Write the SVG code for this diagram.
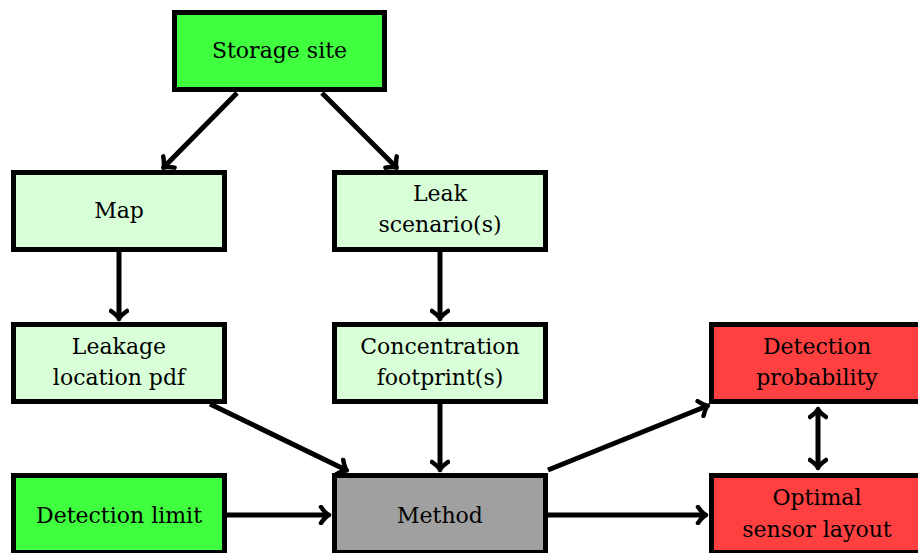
<svg xmlns="http://www.w3.org/2000/svg" width="918" height="553" viewBox="0 0 918 553">
<style>
.box{stroke:#000;stroke-width:5}
.g{fill:#3fff3f}.lg{fill:#d9ffd9}.r{fill:#ff4040}.gr{fill:#a0a0a0}
.t{font-family:'DejaVu Serif',serif;font-size:22px;fill:#000;text-anchor:middle}
.c line{stroke:#000;stroke-width:5;marker-end:url(#ah)}
</style>
<defs>
<marker id="ah" markerUnits="userSpaceOnUse" viewBox="-10 -10 16 20" markerWidth="16" markerHeight="20" refX="0" refY="0" orient="auto-start-reverse">
<path d="M-7,-8 Q-2,-1 1,0 Q-2,1 -7,8" fill="none" stroke="#000" stroke-width="4.5" stroke-linecap="round" stroke-linejoin="round"/>
</marker>
</defs>
<rect width="918" height="553" fill="#fff"/>
<g class="c">
<line x1="237" y1="93" x2="164" y2="167"/>
<line x1="322" y1="93" x2="396" y2="167"/>
<line x1="119" y1="252" x2="119" y2="318"/>
<line x1="440" y1="252" x2="440" y2="318"/>
<line x1="210" y1="404" x2="346" y2="470"/>
<line x1="440" y1="404" x2="440" y2="469"/>
<line x1="227" y1="515" x2="328" y2="515"/>
<line x1="548" y1="470" x2="707" y2="406"/>
<line x1="548" y1="515" x2="705" y2="515"/>
<line x1="818" y1="410" x2="818" y2="467" style="marker-start:url(#ah)"/>
</g>
<g id="storage" class="t"><rect class="box g" x="174.5" y="12.5" width="210" height="77"/><text x="279.5" y="58">Storage site</text></g>
<g id="map" class="t"><rect class="box lg" x="13.5" y="172.5" width="211" height="77"/><text x="119" y="218">Map</text></g>
<g id="leak" class="t"><rect class="box lg" x="334.5" y="172.5" width="211" height="77"/><text x="440" y="201">Leak</text><text x="440" y="232">scenario(s)</text></g>
<g id="leakage" class="t"><rect class="box lg" x="13.5" y="324.5" width="211" height="77"/><text x="119" y="354">Leakage</text><text x="119" y="385">location pdf</text></g>
<g id="conc" class="t"><rect class="box lg" x="334.5" y="324.5" width="211" height="77"/><text x="440" y="354">Concentration</text><text x="440" y="385">footprint(s)</text></g>
<g id="detprob" class="t"><rect class="box r" x="711.5" y="324.5" width="211" height="77"/><text x="817" y="354">Detection</text><text x="817" y="385">probability</text></g>
<g id="detlimit" class="t"><rect class="box g" x="13.5" y="475.5" width="211" height="77"/><text x="119" y="523">Detection limit</text></g>
<g id="method" class="t"><rect class="box gr" x="334.5" y="475.5" width="211" height="77"/><text x="440" y="523">Method</text></g>
<g id="optimal" class="t"><rect class="box r" x="711.5" y="475.5" width="211" height="77"/><text x="817" y="505">Optimal</text><text x="817" y="537">sensor layout</text></g>
</svg>
